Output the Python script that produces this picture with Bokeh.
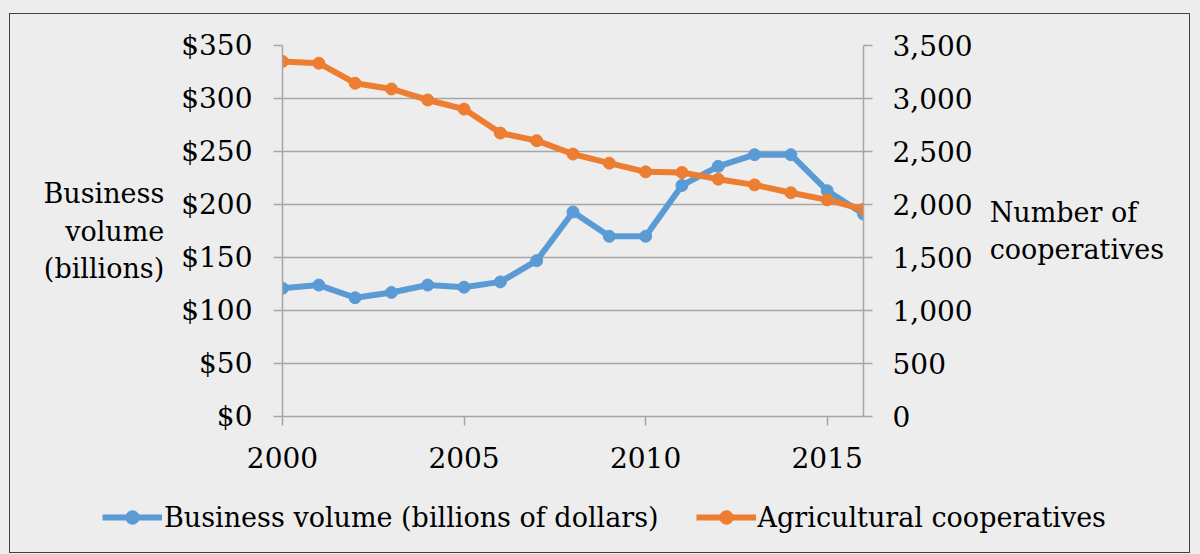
from bokeh.plotting import figure
from bokeh.models import Range1d, LinearAxis, FixedTicker, NumeralTickFormatter, Legend, LegendItem
from bokeh.embed import file_html
from bokeh.resources import INLINE

years = list(range(2000, 2017))
business_volume = [121, 124, 112, 117, 124, 122, 127, 147, 193, 170, 170, 218, 236, 247, 247, 213, 191]
cooperatives = [3350, 3333, 3144, 3090, 2986, 2900, 2674, 2602, 2476, 2390, 2308, 2302, 2239, 2185, 2111, 2044, 1955]
x_ticks = [2000, 2005, 2010, 2015]
left_ticks = [0, 50, 100, 150, 200, 250, 300, 350]
right_ticks = [0, 500, 1000, 1500, 2000, 2500, 3000, 3500]
series_names = ["Business volume (billions of dollars)", "Agricultural cooperatives"]

BLUE = "#5B9BD5"
ORANGE = "#ED7D31"
BG = "#EDEDED"
GRID = "#A6A6A6"
EDGE = "1.5px solid #404040"
FONT = "DejaVu Serif"
TICK_FS = "28px"
LABEL_FS = "27px"

p = figure(width=1181, height=472, output_backend="svg", toolbar_location=None,
           x_range=Range1d(2000, 2016), y_range=Range1d(0, 350),
           background_fill_color=BG, border_fill_color=BG,
           min_border_left=272, min_border_right=328, min_border_top=31, min_border_bottom=70)
p.styles = {"margin-left": "9px", "margin-top": "13px",
            "border-left": EDGE, "border-right": EDGE, "border-top": EDGE}
p.outline_line_color = None
p.extra_y_ranges = {"coop": Range1d(0, 3500)}

p.xaxis.ticker = FixedTicker(ticks=x_ticks)
p.xaxis.formatter = NumeralTickFormatter(format="0")
p.yaxis.ticker = FixedTicker(ticks=left_ticks)
p.yaxis.formatter = NumeralTickFormatter(format="$0,0")
p.yaxis.axis_label = "Business\nvolume\n(billions)"
p.yaxis.axis_label_orientation = "horizontal"

right = LinearAxis(y_range_name="coop", ticker=FixedTicker(ticks=right_ticks),
                   formatter=NumeralTickFormatter(format="0,0"),
                   axis_label="Number of\ncooperatives", axis_label_orientation="horizontal")
p.add_layout(right, "right")

for ax in [p.xaxis[0], p.yaxis[0], right]:
    ax.axis_line_color = GRID
    ax.axis_line_width = 1.5
    ax.major_tick_line_color = GRID
    ax.major_tick_line_width = 1.5
    ax.major_tick_in = 0
    ax.major_tick_out = 9
    ax.minor_tick_line_color = None
    ax.major_label_text_font = FONT
    ax.major_label_text_font_size = TICK_FS
    ax.major_label_text_color = "black"
    ax.axis_label_text_font = FONT
    ax.axis_label_text_font_size = LABEL_FS
    ax.axis_label_text_font_style = "normal"
    ax.axis_label_text_color = "black"
    ax.axis_label_text_align = "center"
    ax.major_label_standoff = 21
    ax.axis_label_standoff = 14
right.major_label_standoff = 20
p.xaxis.major_label_standoff = 21

p.xgrid.grid_line_color = None
p.ygrid.grid_line_color = GRID
p.ygrid.grid_line_width = 1.5

p.line(years, business_volume, line_color=BLUE, line_width=6)
p.scatter(years, business_volume, size=12, fill_color=BLUE, line_color=BLUE)
p.line(years, cooperatives, line_color=ORANGE, line_width=6, y_range_name="coop")
p.scatter(years, cooperatives, size=12, fill_color=ORANGE, line_color=ORANGE, y_range_name="coop")

# legend strip (same series styles; data lies outside this strip's ranges)
lf = figure(width=1181, height=68, output_backend="svg", toolbar_location=None,
            x_range=Range1d(0, 1), y_range=Range1d(0, 1),
            x_axis_type=None, y_axis_type=None,
            background_fill_color=BG, border_fill_color=BG, min_border=0)
lf.styles = {"margin-left": "9px", "border-left": EDGE, "border-right": EDGE, "border-bottom": EDGE}
lf.outline_line_color = None
lb1 = lf.line(years, business_volume, line_color=BLUE, line_width=6)
sb1 = lf.scatter(years, business_volume, size=12, fill_color=BLUE, line_color=BLUE)
lb2 = lf.line(years, cooperatives, line_color=ORANGE, line_width=6)
sb2 = lf.scatter(years, cooperatives, size=12, fill_color=ORANGE, line_color=ORANGE)

legend = Legend(items=[LegendItem(label=series_names[0], renderers=[lb1, sb1]),
                       LegendItem(label=series_names[1], renderers=[lb2, sb2])],
                orientation="horizontal", location=(92, 19),
                label_text_font=FONT, label_text_font_size=LABEL_FS, label_text_color="black",
                glyph_width=60, glyph_height=34, label_standoff=2, spacing=37,
                background_fill_alpha=0, border_line_color=None, margin=0, padding=2)
lf.add_layout(legend, "center")

page_style = "{% block postamble %}<style>html, body { background-color: #EDEDED; }</style>{% endblock %}"
html = None
try:
    html = file_html([p, lf], INLINE, template=page_style)
    if "Bokeh" not in html or len(html) < 100000:
        html = None
except Exception:
    html = None
if html is None:
    html = file_html([p, lf], INLINE)

open("out.html", "w").write(html)
